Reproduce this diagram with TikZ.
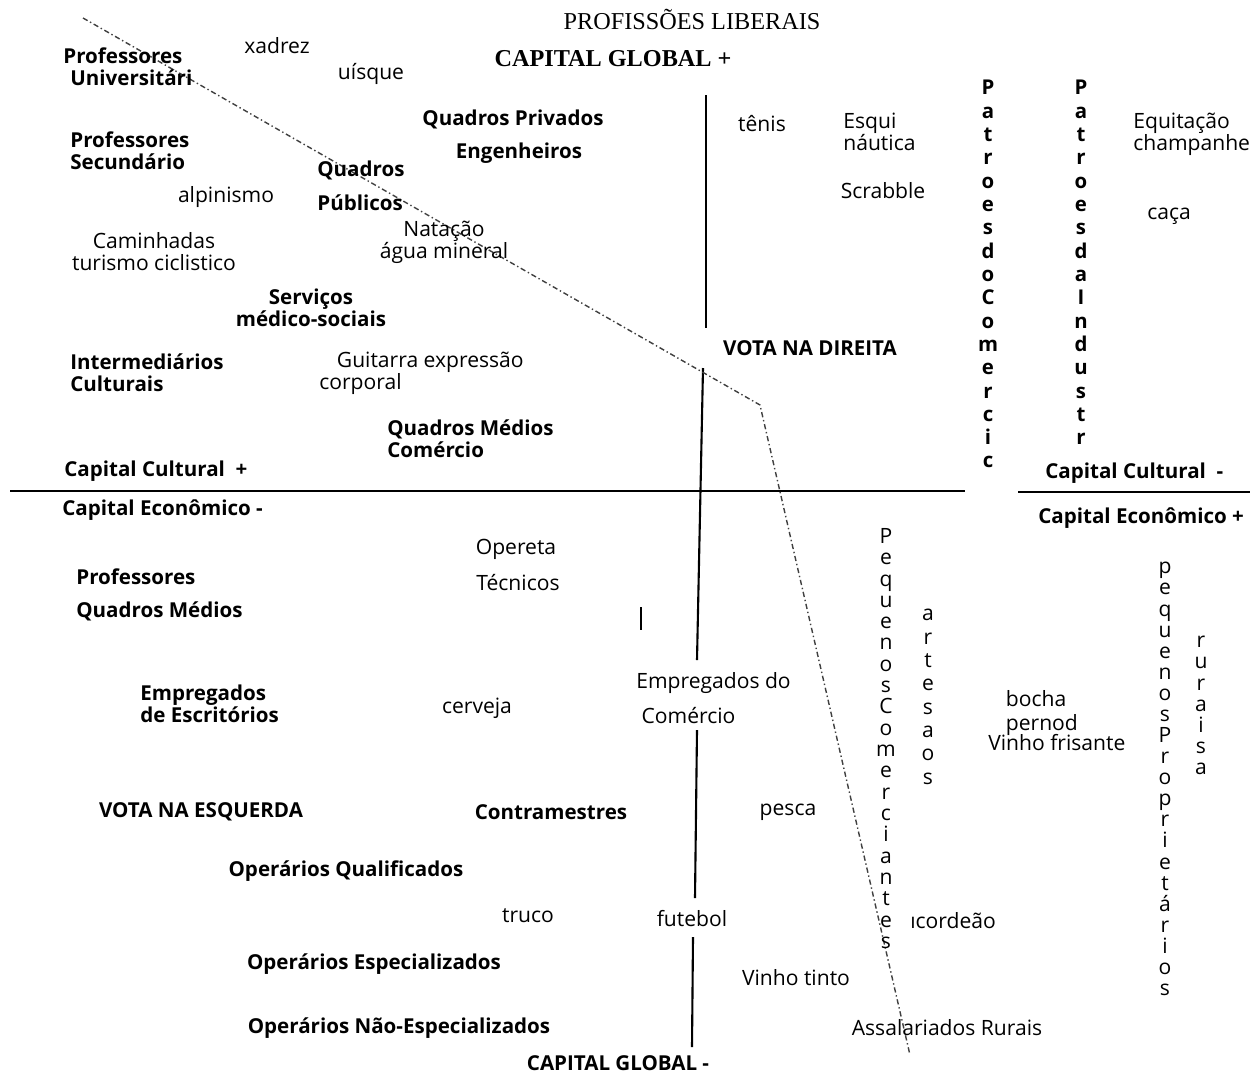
\documentclass[tikz,border=0pt]{standalone}
\usepackage{fontspec}
\setmainfont{Open Sans}
\newfontfamily\ttlserif{Liberation Serif}

\tikzset{
  lbl/.style={inner sep=0pt, font=\fontsize{12}{12.5}\selectfont},
  blbl/.style={inner sep=0pt, font=\fontsize{11.7}{12.5}\selectfont\bfseries},
  ttl/.style={inner sep=0pt, font=\ttlserif\fontsize{13.8}{15}\selectfont},
  vcol/.style={inner sep=0pt, anchor=north, align=center},
  axis/.style={line width=1.2pt, black},
  trend/.style={line width=0.8pt, black!75,
    dash pattern=on 3pt off 1.6pt on 0.8pt off 1.6pt},
}

\begin{document}
\begin{tikzpicture}[x=0.02cm, y=-0.02cm]
\useasboundingbox (0,0) rectangle (1254,1073);

% axes
\draw[axis] (10,491) -- (965,491);
\draw[axis] (1018,492) -- (1250,492);
\draw[axis] (706,95) -- (706,328);
\draw[axis] (703,368) -- (697,660);
\draw[axis] (697,730) -- (695,898);
\draw[axis] (693,937) -- (692,1047);
\draw[line width=1.1pt] (641,607) -- (641,630);

% dash-dot dividing line
\coordinate (d0) at (83,18);
\coordinate (d1) at (760,405);
\coordinate (d2) at (910,1055);
\draw[trend] (d0) -- (d1) -- (d2);

% titles
\node[ttl] (prof) at (692,19) {PROFISSÕES LIBERAIS};
\node[ttl, font=\ttlserif\fontsize{13.8}{15}\selectfont\bfseries] (cgmais) at (613,59) {CAPITAL GLOBAL +};
\node[blbl] (cgmenos) at (618,1063) {CAPITAL GLOBAL -};

% upper left quadrant
\node[blbl, align=left, anchor=west] (pu) at (63,67) {Professores\\\hspace*{4pt}Universitári};
\node[lbl] (xadrez) at (277,46) {xadrez};
\node[lbl] (uisque) at (371,74) {uísque};
\node[blbl, align=left, anchor=west] (ps) at (70,151) {Professores\\Secundário};
\node[lbl] (alpin) at (226,197) {alpinismo};
\node[blbl, align=left, anchor=west] (qp) at (317,186) {Quadros\\[7pt]Públicos};
\node[blbl] (qpriv) at (513,119) {Quadros Privados};
\node[blbl] (eng) at (519,153) {Engenheiros};
\node[lbl, align=center] (cam) at (154,252) {Caminhadas\\turismo ciclistico};
\node[lbl, align=center] (nat) at (444,242) {Natação\\água mineral};
\node[blbl, align=center] (serv) at (311,308) {Serviços\\médico-sociais};
\node[blbl, align=left, anchor=west] (interm) at (70,373) {Intermediários\\Culturais};
\node[lbl, align=left, anchor=west] (guit) at (319,373) {\hspace*{10pt}Guitarra expressão\\corporal};
\node[blbl, align=left, anchor=west] (qmc) at (387,439) {Quadros Médios\\Comércio};
\node[blbl, anchor=west] (ccmais) at (64,471) {Capital Cultural\ \ +};
\node[blbl, anchor=west] (cemenos) at (62,510) {Capital Econômico -};

% upper right quadrant
\node[blbl] (vdir) at (810,348) {VOTA NA DIREITA};
\node[lbl] (tenis) at (762,124) {tênis};
\node[lbl, align=left, anchor=west] (esqui) at (843,132) {Esqui\\náutica};
\node[lbl] (scrab) at (883,191) {Scrabble};
\node[lbl, align=left, anchor=west] (equit) at (1133,134) {Equitação\\champanhe};
\node[lbl] (caca) at (1169,216) {caça};
\begin{scope}
  \clip (960,60) rectangle (1020,467);
  \node[blbl, vcol, font=\fontsize{11.6}{13.27}\selectfont\bfseries] (pcom) at (988,80)
    {P\\a\\t\\r\\o\\e\\s\\d\\o\\C\\o\\m\\e\\r\\c\\i\\c};
\end{scope}
\node[blbl, vcol, font=\fontsize{11.6}{13.27}\selectfont\bfseries] (pind) at (1081,80)
  {P\\a\\t\\r\\o\\e\\s\\d\\a\\I\\n\\d\\u\\s\\t\\r};
\node[blbl, anchor=west] (ccmenos) at (1045,473) {Capital Cultural\ \ -};
\node[blbl, anchor=west] (cemais) at (1038,518) {Capital Econômico +};

% lower left quadrant
\node[lbl] (oper) at (516,549) {Opereta};
\node[lbl] (tec) at (518,583) {Técnicos};
\node[blbl, anchor=west] (prof2) at (76,577) {Professores};
\node[blbl, anchor=west] (qm) at (76,611) {Quadros Médios};
\node[blbl, align=left, anchor=west] (empesc) at (140,704) {Empregados\\de Escritórios};
\node[lbl] (cerv) at (477,708) {cerveja};
\node[lbl, align=left, anchor=west] (empcom) at (636,698) {Empregados do\\[7pt]\hspace*{3pt}Comércio};
\node[blbl] (vesq) at (201,812) {VOTA NA ESQUERDA};
\node[blbl] (contra) at (551,812) {Contramestres};
\node[blbl] (oq) at (346,871) {Operários Qualificados};
\node[lbl] (truco) at (528,916) {truco};
\node[lbl] (fut) at (692,919) {futebol};
\node[blbl] (oe) at (374,964) {Operários Especializados};
\node[blbl] (one) at (399,1028) {Operários Não-Especializados};

% lower right quadrant
\node[lbl] (pesca) at (788,812) {pesca};
\node[lbl] (vtinto) at (796,978) {Vinho tinto};
\node[lbl, anchor=west] (acord) at (910,921) {ıcordeão};
\node[lbl] (assal) at (947,1028) {Assalariados Rurais};
\node[lbl, align=left, anchor=west] (bocha) at (988,721)
  {\hspace*{10pt}bocha\\[1pt]\hspace*{10pt}pernod\\[-1pt]Vinho frisante};
\node[lbl, vcol, font=\fontsize{12}{12.13}\selectfont] (pcomerc) at (886,528)
  {P\\e\\q\\u\\e\\n\\o\\s\\C\\o\\m\\e\\r\\c\\i\\a\\n\\t\\e\\s};
\node[lbl, vcol, font=\fontsize{12}{13.27}\selectfont] (artes) at (928,609)
  {a\\r\\t\\e\\s\\a\\o\\s};
\node[lbl, vcol, font=\fontsize{12}{12}\selectfont] (pprop) at (1165,562)
  {p\\e\\q\\u\\e\\n\\o\\s\\P\\r\\o\\p\\r\\i\\e\\t\\á\\r\\i\\o\\s};
\node[lbl, vcol, font=\fontsize{12}{12}\selectfont] (rur) at (1201,636)
  {r\\u\\r\\a\\i\\s\\a};
\end{tikzpicture}
\end{document}
